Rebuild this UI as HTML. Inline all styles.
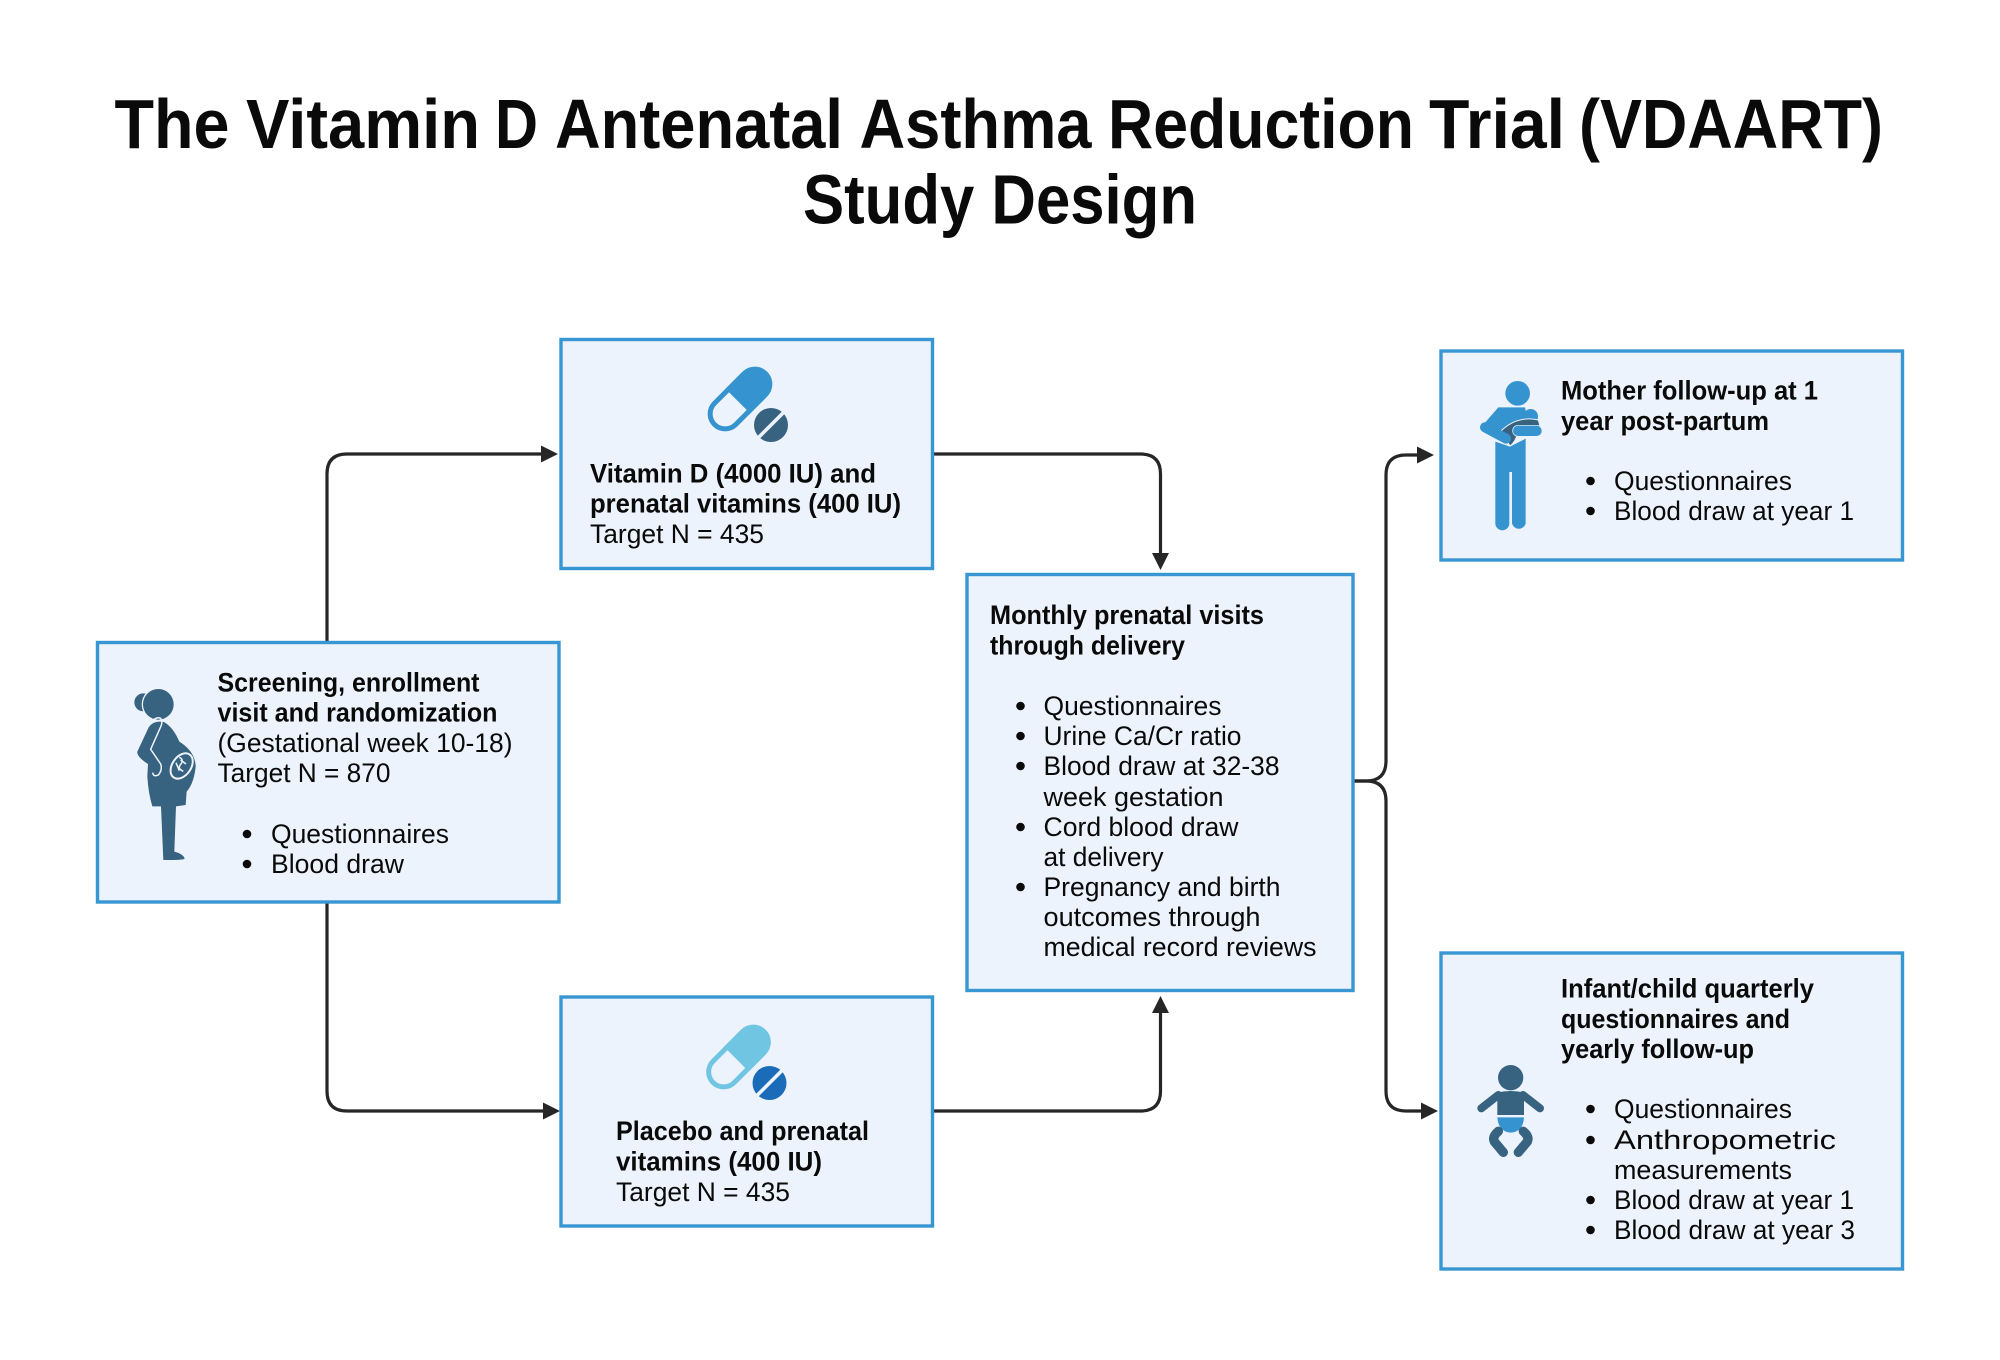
<!DOCTYPE html>
<html>
<head>
<meta charset="utf-8">
<style>
html,body{margin:0;padding:0;background:#fff;}
svg{display:block;}
text{font-family:"Liberation Sans",sans-serif;font-size:26.5px;fill:#0a0a0a;}
.b{font-weight:700;}
.t{font-weight:700;font-size:70px;fill:#0a0a0a;}
.box{fill:#edf3fc;stroke:#3897d3;stroke-width:3.4;}
.c{fill:none;stroke:#262626;stroke-width:3.2;}
.a{fill:#262626;}
.d{fill:#0a0a0a;}
</style>
</head>
<body>
<svg width="2000" height="1360" viewBox="0 0 2000 1360" xmlns="http://www.w3.org/2000/svg">
<rect width="2000" height="1360" fill="#fff"/>

<text class="t" x="114.500" y="148" textLength="115" lengthAdjust="spacingAndGlyphs">The</text>
<text class="t" x="246" y="148" textLength="234" lengthAdjust="spacingAndGlyphs">Vitamin</text>
<text class="t" x="495" y="148" textLength="43" lengthAdjust="spacingAndGlyphs">D</text>
<text class="t" x="555" y="148" textLength="288" lengthAdjust="spacingAndGlyphs">Antenatal</text>
<text class="t" x="859.500" y="148" textLength="232" lengthAdjust="spacingAndGlyphs">Asthma</text>
<text class="t" x="1108" y="148" textLength="306" lengthAdjust="spacingAndGlyphs">Reduction</text>
<text class="t" x="1429" y="148" textLength="136" lengthAdjust="spacingAndGlyphs">Trial</text>
<text class="t" x="1579" y="148" textLength="304" lengthAdjust="spacingAndGlyphs">(VDAART)</text>
<text class="t" x="803" y="223.500" textLength="394" lengthAdjust="spacingAndGlyphs">Study Design</text>

<!-- connectors -->
<path class="c" d="M327,642V474Q327,454 347,454H545"/>
<polygon class="a" points="558,454 541,445.500 541,462.500"/>
<path class="c" d="M327,902V1091Q327,1111 347,1111H547"/>
<polygon class="a" points="560,1111 543,1102.500 543,1119.500"/>
<path class="c" d="M933,454H1140.500Q1160.500,454 1160.500,474V557"/>
<polygon class="a" points="1160.500,570 1152,553 1169,553"/>
<path class="c" d="M933,1111H1140.500Q1160.500,1111 1160.500,1091V1009"/>
<polygon class="a" points="1160.500,996 1152,1013 1169,1013"/>
<path class="c" d="M1353,781H1366Q1386,781 1386,761V475Q1386,455 1406,455H1420"/>
<polygon class="a" points="1434,455 1417,446.500 1417,463.500"/>
<path class="c" d="M1353,781H1366Q1386,781 1386,801V1091Q1386,1111 1406,1111H1424"/>
<polygon class="a" points="1438,1111 1421,1102.500 1421,1119.500"/>

<!-- boxes -->
<rect class="box" x="97.500" y="642.500" width="461.500" height="259.500"/>
<rect class="box" x="561" y="339.500" width="371.500" height="229"/>
<rect class="box" x="561" y="997" width="371.500" height="229"/>
<rect class="box" x="967" y="574.500" width="386" height="416"/>
<rect class="box" x="1441" y="351" width="461.500" height="209"/>
<rect class="box" x="1441" y="953" width="461.500" height="316"/>

<!-- box 1 text -->
<text class="b" x="217.500" y="691.500" textLength="262" lengthAdjust="spacingAndGlyphs">Screening, enrollment</text>
<text class="b" x="217.500" y="721.500" textLength="280" lengthAdjust="spacingAndGlyphs">visit and randomization</text>
<text x="217.500" y="752" textLength="295" lengthAdjust="spacingAndGlyphs">(Gestational week 10-18)</text>
<text x="217.500" y="782" textLength="173" lengthAdjust="spacingAndGlyphs">Target N = 870</text>
<circle class="d" cx="247" cy="834" r="4.300"/>
<text x="271" y="843" textLength="178" lengthAdjust="spacingAndGlyphs">Questionnaires</text>
<circle class="d" cx="247" cy="864" r="4.300"/>
<text x="271" y="873" textLength="133" lengthAdjust="spacingAndGlyphs">Blood draw</text>

<!-- vitamin D text -->
<text class="b" x="590" y="482.500" textLength="286" lengthAdjust="spacingAndGlyphs">Vitamin D (4000 IU) and</text>
<text class="b" x="590" y="512.500" textLength="311" lengthAdjust="spacingAndGlyphs">prenatal vitamins (400 IU)</text>
<text x="590" y="543" textLength="174" lengthAdjust="spacingAndGlyphs">Target N = 435</text>

<!-- placebo text -->
<text class="b" x="616" y="1140" textLength="253" lengthAdjust="spacingAndGlyphs">Placebo and prenatal</text>
<text class="b" x="616" y="1170.500" textLength="206" lengthAdjust="spacingAndGlyphs">vitamins (400 IU)</text>
<text x="616" y="1201" textLength="174" lengthAdjust="spacingAndGlyphs">Target N = 435</text>

<!-- monthly text -->
<text class="b" x="990" y="624" textLength="274" lengthAdjust="spacingAndGlyphs">Monthly prenatal visits</text>
<text class="b" x="990" y="654.500" textLength="195" lengthAdjust="spacingAndGlyphs">through delivery</text>
<circle class="d" cx="1020.500" cy="706" r="4.300"/>
<text x="1043.500" y="715" textLength="178" lengthAdjust="spacingAndGlyphs">Questionnaires</text>
<circle class="d" cx="1020.500" cy="736" r="4.300"/>
<text x="1043.500" y="745" textLength="198" lengthAdjust="spacingAndGlyphs">Urine Ca/Cr ratio</text>
<circle class="d" cx="1020.500" cy="766" r="4.300"/>
<text x="1043.500" y="775" textLength="236" lengthAdjust="spacingAndGlyphs">Blood draw at 32-38</text>
<text x="1043.500" y="806" textLength="180" lengthAdjust="spacingAndGlyphs">week gestation</text>
<circle class="d" cx="1020.500" cy="827" r="4.300"/>
<text x="1043.500" y="836" textLength="195" lengthAdjust="spacingAndGlyphs">Cord blood draw</text>
<text x="1043.500" y="866" textLength="120" lengthAdjust="spacingAndGlyphs">at delivery</text>
<circle class="d" cx="1020.500" cy="887" r="4.300"/>
<text x="1043.500" y="896" textLength="237" lengthAdjust="spacingAndGlyphs">Pregnancy and birth</text>
<text x="1043.500" y="926" textLength="217" lengthAdjust="spacingAndGlyphs">outcomes through</text>
<text x="1043.500" y="956" textLength="273" lengthAdjust="spacingAndGlyphs">medical record reviews</text>

<!-- mother text -->
<text class="b" x="1561" y="399.500" textLength="257" lengthAdjust="spacingAndGlyphs">Mother follow-up at 1</text>
<text class="b" x="1561" y="430" textLength="208" lengthAdjust="spacingAndGlyphs">year post-partum</text>
<circle class="d" cx="1590.500" cy="481" r="4.300"/>
<text x="1614" y="490" textLength="178" lengthAdjust="spacingAndGlyphs">Questionnaires</text>
<circle class="d" cx="1590.500" cy="511" r="4.300"/>
<text x="1614" y="520" textLength="240" lengthAdjust="spacingAndGlyphs">Blood draw at year 1</text>

<!-- infant text -->
<text class="b" x="1561" y="997.500" textLength="253" lengthAdjust="spacingAndGlyphs">Infant/child quarterly</text>
<text class="b" x="1561" y="1028" textLength="229" lengthAdjust="spacingAndGlyphs">questionnaires and</text>
<text class="b" x="1561" y="1058" textLength="193" lengthAdjust="spacingAndGlyphs">yearly follow-up</text>
<circle class="d" cx="1590.500" cy="1109" r="4.300"/>
<text x="1614" y="1118" textLength="178" lengthAdjust="spacingAndGlyphs">Questionnaires</text>
<circle class="d" cx="1590.500" cy="1140" r="4.300"/>
<text x="1614" y="1149" textLength="222" lengthAdjust="spacingAndGlyphs">Anthropometric</text>
<text x="1614" y="1179" textLength="178" lengthAdjust="spacingAndGlyphs">measurements</text>
<circle class="d" cx="1590.500" cy="1200" r="4.300"/>
<text x="1614" y="1209" textLength="240" lengthAdjust="spacingAndGlyphs">Blood draw at year 1</text>
<circle class="d" cx="1590.500" cy="1230" r="4.300"/>
<text x="1614" y="1239" textLength="241" lengthAdjust="spacingAndGlyphs">Blood draw at year 3</text>

<!-- pill 1 -->
<g transform="translate(740,399) rotate(-45)">
  <rect x="-36" y="-15" width="72" height="30" rx="15" fill="#edf3fc" stroke="#3594cf" stroke-width="5"/>
  <path d="M-3,-17.500H18.500A17.500,17.500 0 0 1 18.500,17.500H-3Z" fill="#3594cf"/>
</g>
<circle cx="771" cy="425" r="17" fill="#376380"/>
<line x1="758" y1="438" x2="784" y2="412" stroke="#edf3fc" stroke-width="3.600"/>

<!-- pill 2 -->
<g transform="translate(738.500,1057) rotate(-45)">
  <rect x="-36" y="-15" width="72" height="30" rx="15" fill="#edf3fc" stroke="#70c6e2" stroke-width="5"/>
  <path d="M-3,-17.500H18.500A17.500,17.500 0 0 1 18.500,17.500H-3Z" fill="#70c6e2"/>
</g>
<circle cx="769.500" cy="1083" r="17" fill="#1a6cb8"/>
<line x1="756.500" y1="1096" x2="782.500" y2="1070" stroke="#edf3fc" stroke-width="3.600"/>

<!-- pregnant woman -->
<g transform="translate(120,670) scale(0.3333)">
  <circle cx="70" cy="97" r="27" fill="#376380"/>
  <circle cx="115" cy="103" r="50" fill="#edf3fc"/>
  <circle cx="115" cy="103" r="46" fill="#376380"/>
  <path d="M86,172Q100,150 132,156Q160,172 178,215Q226,245 227,290Q222,340 200,365L197,405L168,409L163,545Q190,552 194,566Q190,571 130,570L123,409L97,409Q85,370 82,320L84,282Q50,260 52,245Z" fill="#376380"/>
  <path d="M90,160Q108,138 122,145Q130,155 120,175L92,238L122,282Q128,300 115,315Q100,322 98,308" fill="none" stroke="#edf3fc" stroke-width="4.500"/>
  <ellipse cx="185" cy="288" rx="28" ry="42" transform="rotate(35 185 288)" fill="#376380" stroke="#edf3fc" stroke-width="6"/>
  <path d="M178,262Q192,268 183,282Q170,295 190,304M168,278L178,302M182,270L198,282" fill="none" stroke="#edf3fc" stroke-width="4.500"/>
</g>

<!-- mother icon -->
<g transform="translate(1430,340) scale(0.3333)">
  <circle cx="263" cy="160" r="37" fill="#3594cf"/>
  <path d="M196,305L240,320L287,296V550A21,21 0 0 1 246,550V396H238V550A21,21 0 0 1 196,550Z" fill="#3594cf"/>
  <path d="M205,202H285L292,232L250,250L216,272L190,262L150,265Z" fill="#3594cf"/>
  <circle cx="302" cy="229" r="22" fill="#3594cf"/>
  <path d="M214,272Q262,226 325,240L330,258H262Q266,298 240,318Z" fill="#376380" stroke="#edf3fc" stroke-width="3"/>
  <rect x="248" y="256" width="88" height="33" rx="16" fill="#3594cf" stroke="#edf3fc" stroke-width="2"/>
  <line x1="165" y1="262" x2="228" y2="296" stroke="#3594cf" stroke-width="30" stroke-linecap="round"/>
</g>

<!-- baby icon -->
<g transform="translate(1430,1040) scale(0.3333)">
  <circle cx="242" cy="113" r="38" fill="#376380"/>
  <path d="M202,158Q242,148 282,158V225H202Z" fill="#376380"/>
  <path d="M154,205L205,165M330,205L279,165" stroke="#376380" stroke-width="24" stroke-linecap="round" fill="none"/>
  <path d="M202,232H282Q280,275 242,278Q205,275 202,232Z" fill="#3594cf"/>
  <path d="M205,274Q186,290 193,305L220,337M280,274Q299,290 292,305L265,337" stroke="#376380" stroke-width="28" stroke-linecap="round" stroke-linejoin="round" fill="none"/>
</g>
</svg>
</body>
</html>
